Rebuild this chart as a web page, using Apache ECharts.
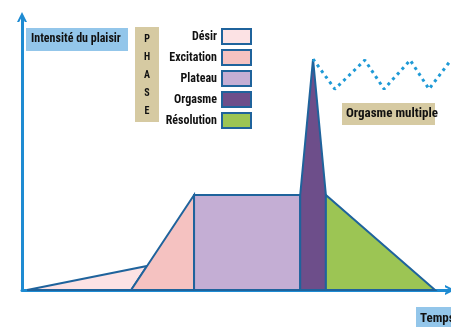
<!DOCTYPE html>
<html><head><meta charset="utf-8">
<script src="https://cdn.jsdelivr.net/npm/echarts@6/dist/echarts.min.js"></script>
<style>html,body{margin:0;padding:0;background:#fff}#c{width:451px;height:327px}</style>
</head><body><div id="c"></div>
<script>
// ---- data (x = time units 0..100, y = intensity 0..100) ----
const phaseNames = ['Désir', 'Excitation', 'Plateau', 'Orgasme', 'Résolution'];
const desirX = [1.2, 29.2, 25.5];
const desirY = [0, 8.8, 0];
const excitationX = [25.5, 40.2, 40.2];
const excitationY = [0, 34.8, 0];
const plateauX = [40.2, 40.2, 65.0, 65.0];
const plateauY = [0, 34.8, 34.8, 0];
const orgasmeX = [65.0, 65.0, 68.0, 71.0, 71.0];
const orgasmeY = [0, 34.8, 84.6, 34.8, 0];
const resolutionX = [71.0, 71.0, 96.5];
const resolutionY = [0, 34.8, 0];
const multipleX = [68.0, 73.1, 80.1, 84.6, 90.7, 95.1, 100.2];
const multipleY = [84.6, 73.6, 84.2, 73.6, 84.2, 73.6, 84.2];
const phaseLetters = ['P', 'H', 'A', 'S', 'E'];
const yAxisTitle = 'Intensité du plaisir';
const xAxisTitle = 'Temps';
const multipleLabel = 'Orgasme multiple';

// ---- styles ----
const phaseColors = ['#fce2e4', '#f5c2c1', '#c4aed4', '#6d4e8a', '#9cc554'];
const outline = '#1f639c';
const axisBlue = '#1e8bd2';
const FONT = "'Liberation Sans Narrow', 'Arial Narrow', 'Roboto Condensed', sans-serif";
const polyX = [desirX, excitationX, plateauX, orgasmeX, resolutionX];
const polyY = [desirY, excitationY, plateauY, orgasmeY, resolutionY];
const chevron = 'path://M0,10 L5,0 L10,10 L7.8,10 L5,4.4 L2.2,10 Z';

const phaseSeries = phaseNames.map((name, i) => ({
  type: 'custom',
  name: name,
  coordinateSystem: 'cartesian2d',
  itemStyle: { color: phaseColors[i], borderColor: outline, borderWidth: 2 },
  data: polyX[i].map((x, k) => [x, polyY[i][k]]),
  encode: { x: 0, y: 1 },
  renderItem: function (params, api) {
    if (params.dataIndex !== 0) return null;
    const pts = polyX[i].map((x, k) => api.coord([x, polyY[i][k]]));
    return {
      type: 'polygon',
      shape: { points: pts },
      style: { fill: phaseColors[i], stroke: outline, lineWidth: 2, lineJoin: 'miter' }
    };
  },
  z: 2
}));

const chart = echarts.init(document.getElementById('c'), null, { renderer: 'canvas' });
chart.setOption({
  animation: false,
  grid: { left: 22, right: 1, top: 17, bottom: 37, containLabel: false },
  xAxis: {
    type: 'value', min: 0, max: 100,
    axisLine: { show: true, symbol: ['none', chevron], symbolSize: [13, 10], lineStyle: { color: axisBlue, width: 3 } },
    axisTick: { show: false }, axisLabel: { show: false }, splitLine: { show: false }
  },
  yAxis: {
    type: 'value', min: 0, max: 100,
    axisLine: { show: true, symbol: ['none', chevron], symbolSize: [13, 10], lineStyle: { color: axisBlue, width: 3 } },
    axisTick: { show: false }, axisLabel: { show: false }, splitLine: { show: false }
  },
  legend: {
    data: phaseNames.map((n, i) => ({ name: n, icon: 'rect', itemStyle: { color: phaseColors[i], borderColor: outline, borderWidth: 2 } })),
    orient: 'vertical', align: 'right', right: 199, top: 28, padding: 0,
    itemWidth: 29, itemHeight: 15, itemGap: 4, selectedMode: false,
    textStyle: { fontFamily: FONT, fontWeight: 'bold', fontSize: 12, color: '#111' }
  },
  series: phaseSeries.concat([{
    type: 'line', name: 'multiple',
    data: multipleX.map((x, k) => [x, multipleY[k]]),
    symbol: 'none', clip: false, z: 3,
    lineStyle: { color: '#1f9ad6', width: 3, type: [3, 4], cap: 'butt' }
  }]),
  graphic: [
    { type: 'rect', left: 26, top: 28, shape: { width: 102, height: 23 }, style: { fill: '#93c6ea' } },
    { type: 'text', left: 31, top: 33, style: { text: yAxisTitle, font: 'bold 12px ' + FONT, fill: '#111' } },
    { type: 'rect', left: 135, top: 27, shape: { width: 24, height: 95 }, style: { fill: '#d6caa2' } },
  ].concat(phaseLetters.map((ch, i) => ({
    type: 'text', x: 147, y: 39 + i * 18,
    style: { text: ch, font: 'bold 10px ' + FONT, fill: '#111', align: 'center', verticalAlign: 'middle' }
  }))).concat([
    { type: 'rect', left: 342, top: 103, shape: { width: 93, height: 22 }, style: { fill: '#d6caa2' } },
    { type: 'text', left: 346, top: 107, style: { text: multipleLabel, font: 'bold 13px ' + FONT, fill: '#111' } },
    { type: 'rect', x: 416, y: 307, shape: { width: 40, height: 20 }, style: { fill: '#93c6ea' } },
    { type: 'text', x: 420, y: 319, style: { text: xAxisTitle, font: 'bold 13px ' + FONT, fill: '#111', verticalAlign: 'middle' } }
  ])
});
</script></body></html>
